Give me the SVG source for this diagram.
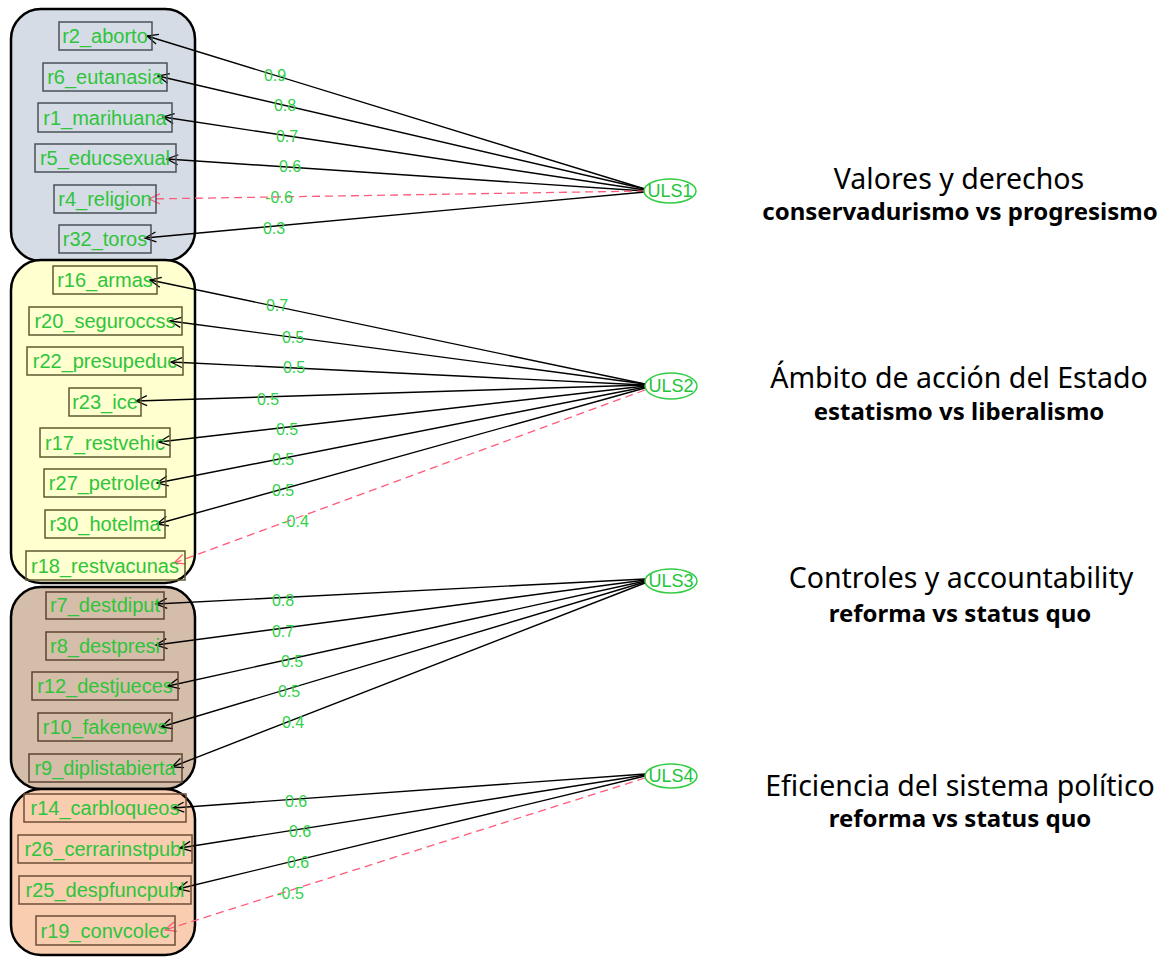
<svg xmlns="http://www.w3.org/2000/svg" width="1167" height="958" viewBox="0 0 1167 958">
<style>
.grp{stroke:#000;stroke-width:2.5}
.n{fill:none;stroke-width:1.5}
.nt{font-family:"Liberation Sans",Arial,sans-serif;font-size:20px;fill:#2ec43c;text-anchor:middle}
.lb{font-family:"Liberation Sans",Arial,sans-serif;font-size:16px;fill:#33d04a;text-anchor:middle}
.pos{stroke:#000;stroke-width:1.4;fill:none;marker-end:url(#ah)}
.neg{stroke:#ff5a7a;stroke-width:1.3;fill:none;stroke-dasharray:8,5;marker-end:url(#ahr)}
.uls{fill:#fff;stroke:#33cc44;stroke-width:1.5}
.ut{font-family:"Liberation Sans",Arial,sans-serif;font-size:18px;fill:#22c43a;text-anchor:middle}
.t1{font-family:"Noto Sans","Open Sans",sans-serif;font-size:28.5px;fill:#000;text-anchor:middle}
.t2{font-family:"Noto Sans","Open Sans",sans-serif;font-size:24px;font-weight:bold;fill:#000;text-anchor:middle}
</style>
<defs>
<marker id="ah" markerUnits="userSpaceOnUse" markerWidth="14" markerHeight="14" viewBox="-12 -7 14 14" refX="0" refY="0" orient="auto">
<path d="M-11,-5 L0,0 L-11,5" fill="none" stroke="#000" stroke-width="1.3"/>
</marker>
<marker id="ahr" markerUnits="userSpaceOnUse" markerWidth="14" markerHeight="14" viewBox="-12 -7 14 14" refX="0" refY="0" orient="auto">
<path d="M-11,-5 L0,0 L-11,5" fill="none" stroke="#ff5a7a" stroke-width="1.3"/>
</marker>
</defs>
<rect width="1167" height="958" fill="#fff"/>

<g id="groups">
<rect class="grp" x="11" y="9" width="184" height="252" rx="30" fill="#d6dce5"/>
<rect class="grp" x="11" y="260" width="184" height="323" rx="30" fill="#ffffcf"/>
<rect class="grp" x="11" y="587" width="184" height="202" rx="30" fill="#d5bea9"/>
<rect class="grp" x="11" y="789" width="184" height="166" rx="30" fill="#f8cdb0"/>
</g>

<g id="connectors">
<line class="pos" x1="645" y1="189" x2="147" y2="36"/>
<line class="pos" x1="645" y1="189" x2="158" y2="76"/>
<line class="pos" x1="645" y1="190" x2="163" y2="117"/>
<line class="pos" x1="645" y1="191" x2="167" y2="159"/>
<line class="neg" x1="645" y1="191" x2="149" y2="199"/>
<line class="pos" x1="645" y1="192" x2="145" y2="238"/>

<line class="pos" x1="645" y1="384" x2="150" y2="280"/>
<line class="pos" x1="645" y1="384" x2="170" y2="321"/>
<line class="pos" x1="645" y1="385" x2="171" y2="362"/>
<line class="pos" x1="645" y1="385" x2="136" y2="401"/>
<line class="pos" x1="645" y1="386" x2="159" y2="442"/>
<line class="pos" x1="645" y1="387" x2="157" y2="483"/>
<line class="pos" x1="645" y1="388" x2="157" y2="524"/>
<line class="neg" x1="645" y1="390" x2="174" y2="563"/>

<line class="pos" x1="645" y1="579" x2="156" y2="604"/>
<line class="pos" x1="645" y1="580" x2="156" y2="645"/>
<line class="pos" x1="645" y1="581" x2="168" y2="686"/>
<line class="pos" x1="645" y1="582" x2="161" y2="727"/>
<line class="pos" x1="645" y1="583" x2="172" y2="767"/>

<line class="pos" x1="645" y1="774" x2="173" y2="808"/>
<line class="pos" x1="645" y1="775" x2="180" y2="848"/>
<line class="pos" x1="645" y1="776" x2="178" y2="889"/>
<line class="neg" x1="645" y1="778" x2="165" y2="930"/>

<text class="lb" x="275" y="81">0.9</text>
<text class="lb" x="285" y="111">0.8</text>
<text class="lb" x="287" y="142">0.7</text>
<text class="lb" x="290" y="172">0.6</text>
<text class="lb" x="279" y="203">-0.6</text>
<text class="lb" x="274" y="234">0.3</text>

<text class="lb" x="277" y="311">0.7</text>
<text class="lb" x="293" y="343">0.5</text>
<text class="lb" x="294" y="373">0.5</text>
<text class="lb" x="268" y="405">0.5</text>
<text class="lb" x="287" y="435">0.5</text>
<text class="lb" x="283" y="465">0.5</text>
<text class="lb" x="283" y="496">0.5</text>
<text class="lb" x="295" y="527">-0.4</text>

<text class="lb" x="283" y="606">0.8</text>
<text class="lb" x="283" y="637">0.7</text>
<text class="lb" x="292" y="667">0.5</text>
<text class="lb" x="289" y="697">0.5</text>
<text class="lb" x="293" y="728">0.4</text>

<text class="lb" x="296" y="807">0.6</text>
<text class="lb" x="300" y="837">0.6</text>
<text class="lb" x="298" y="868">0.6</text>
<text class="lb" x="290" y="899">-0.5</text>
</g>

<g id="r2_aborto"><rect class="n" x="59" y="22" width="93" height="28" stroke="#4a5058"/><text class="nt" x="105" y="43">r2_aborto</text></g>
<g id="r6_eutanasia"><rect class="n" x="43" y="63" width="124" height="28" stroke="#4a5058"/><text class="nt" x="105" y="84">r6_eutanasia</text></g>
<g id="r1_marihuana"><rect class="n" x="38" y="103" width="134" height="29" stroke="#4a5058"/><text class="nt" x="105" y="125">r1_marihuana</text></g>
<g id="r5_educsexual"><rect class="n" x="35" y="144" width="141" height="28" stroke="#4a5058"/><text class="nt" x="105" y="165">r5_educsexual</text></g>
<g id="r4_religion"><rect class="n" x="54" y="185" width="102" height="28" stroke="#4a5058"/><text class="nt" x="105" y="206">r4_religion</text></g>
<g id="r32_toros"><rect class="n" x="59" y="225" width="92" height="28" stroke="#4a5058"/><text class="nt" x="105" y="246">r32_toros</text></g>

<g id="r16_armas"><rect class="n" x="53" y="266" width="104" height="28" stroke="#5e5a32"/><text class="nt" x="105" y="287">r16_armas</text></g>
<g id="r20_seguroccss"><rect class="n" x="29" y="307" width="153" height="28" stroke="#5e5a32"/><text class="nt" x="105" y="328">r20_seguroccss</text></g>
<g id="r22_presupeduc"><rect class="n" x="27" y="347" width="156" height="28" stroke="#5e5a32"/><text class="nt" x="105" y="368">r22_presupeduc</text></g>
<g id="r23_ice"><rect class="n" x="69" y="388" width="72" height="28" stroke="#5e5a32"/><text class="nt" x="105" y="409">r23_ice</text></g>
<g id="r17_restvehic"><rect class="n" x="40" y="428" width="130" height="29" stroke="#5e5a32"/><text class="nt" x="105" y="450">r17_restvehic</text></g>
<g id="r27_petroleo"><rect class="n" x="44" y="469" width="122" height="28" stroke="#5e5a32"/><text class="nt" x="105" y="490">r27_petroleo</text></g>
<g id="r30_hotelma"><rect class="n" x="45" y="510" width="120" height="28" stroke="#5e5a32"/><text class="nt" x="105" y="531">r30_hotelma</text></g>
<g id="r18_restvacunas"><rect class="n" x="26" y="551" width="159" height="29" stroke="#5e5a32"/><text class="nt" x="105" y="573">r18_restvacunas</text></g>

<g id="r7_destdiput"><rect class="n" x="46" y="592" width="118" height="27" stroke="#5c4232"/><text class="nt" x="105" y="612">r7_destdiput</text></g>
<g id="r8_destpresi"><rect class="n" x="46" y="632" width="118" height="28" stroke="#5c4232"/><text class="nt" x="105" y="653">r8_destpresi</text></g>
<g id="r12_destjueces"><rect class="n" x="32" y="672" width="146" height="28" stroke="#5c4232"/><text class="nt" x="105" y="693">r12_destjueces</text></g>
<g id="r10_fakenews"><rect class="n" x="38" y="713" width="134" height="28" stroke="#5c4232"/><text class="nt" x="105" y="734">r10_fakenews</text></g>
<g id="r9_diplistabierta"><rect class="n" x="29" y="754" width="153" height="28" stroke="#5c4232"/><text class="nt" x="105" y="775">r9_diplistabierta</text></g>

<g id="r14_carbloqueos"><rect class="n" x="24" y="794" width="162" height="28" stroke="#6e4c36"/><text class="nt" x="105" y="815">r14_carbloqueos</text></g>
<g id="r26_cerrarinstpubl"><rect class="n" x="18" y="835" width="174" height="28" stroke="#6e4c36"/><text class="nt" x="105" y="856">r26_cerrarinstpubl</text></g>
<g id="r25_despfuncpubl"><rect class="n" x="19" y="876" width="172" height="28" stroke="#6e4c36"/><text class="nt" x="105" y="897">r25_despfuncpubl</text></g>
<g id="r19_convcolec"><rect class="n" x="36" y="916" width="139" height="29" stroke="#6e4c36"/><text class="nt" x="105" y="938">r19_convcolec</text></g>

<g id="ULS1"><ellipse class="uls" cx="670" cy="191" rx="26" ry="12"/><text class="ut" x="670" y="197">ULS1</text></g>
<g id="ULS2"><ellipse class="uls" cx="671" cy="386" rx="26" ry="13"/><text class="ut" x="671" y="392">ULS2</text></g>
<g id="ULS3"><ellipse class="uls" cx="671" cy="581" rx="26" ry="12"/><text class="ut" x="671" y="587">ULS3</text></g>
<g id="ULS4"><ellipse class="uls" cx="671" cy="776" rx="26" ry="12"/><text class="ut" x="671" y="782">ULS4</text></g>

<g id="legend1"><text class="t1" x="959" y="189">Valores y derechos</text><text class="t2" x="960" y="220">conservadurismo vs progresismo</text></g>
<g id="legend2"><text class="t1" x="959" y="388">Ámbito de acción del Estado</text><text class="t2" x="959" y="420">estatismo vs liberalismo</text></g>
<g id="legend3"><text class="t1" x="961" y="588">Controles y accountability</text><text class="t2" x="960" y="622">reforma vs status quo</text></g>
<g id="legend4"><text class="t1" x="960" y="796">Eficiencia del sistema político</text><text class="t2" x="960" y="827">reforma vs status quo</text></g>
</svg>
